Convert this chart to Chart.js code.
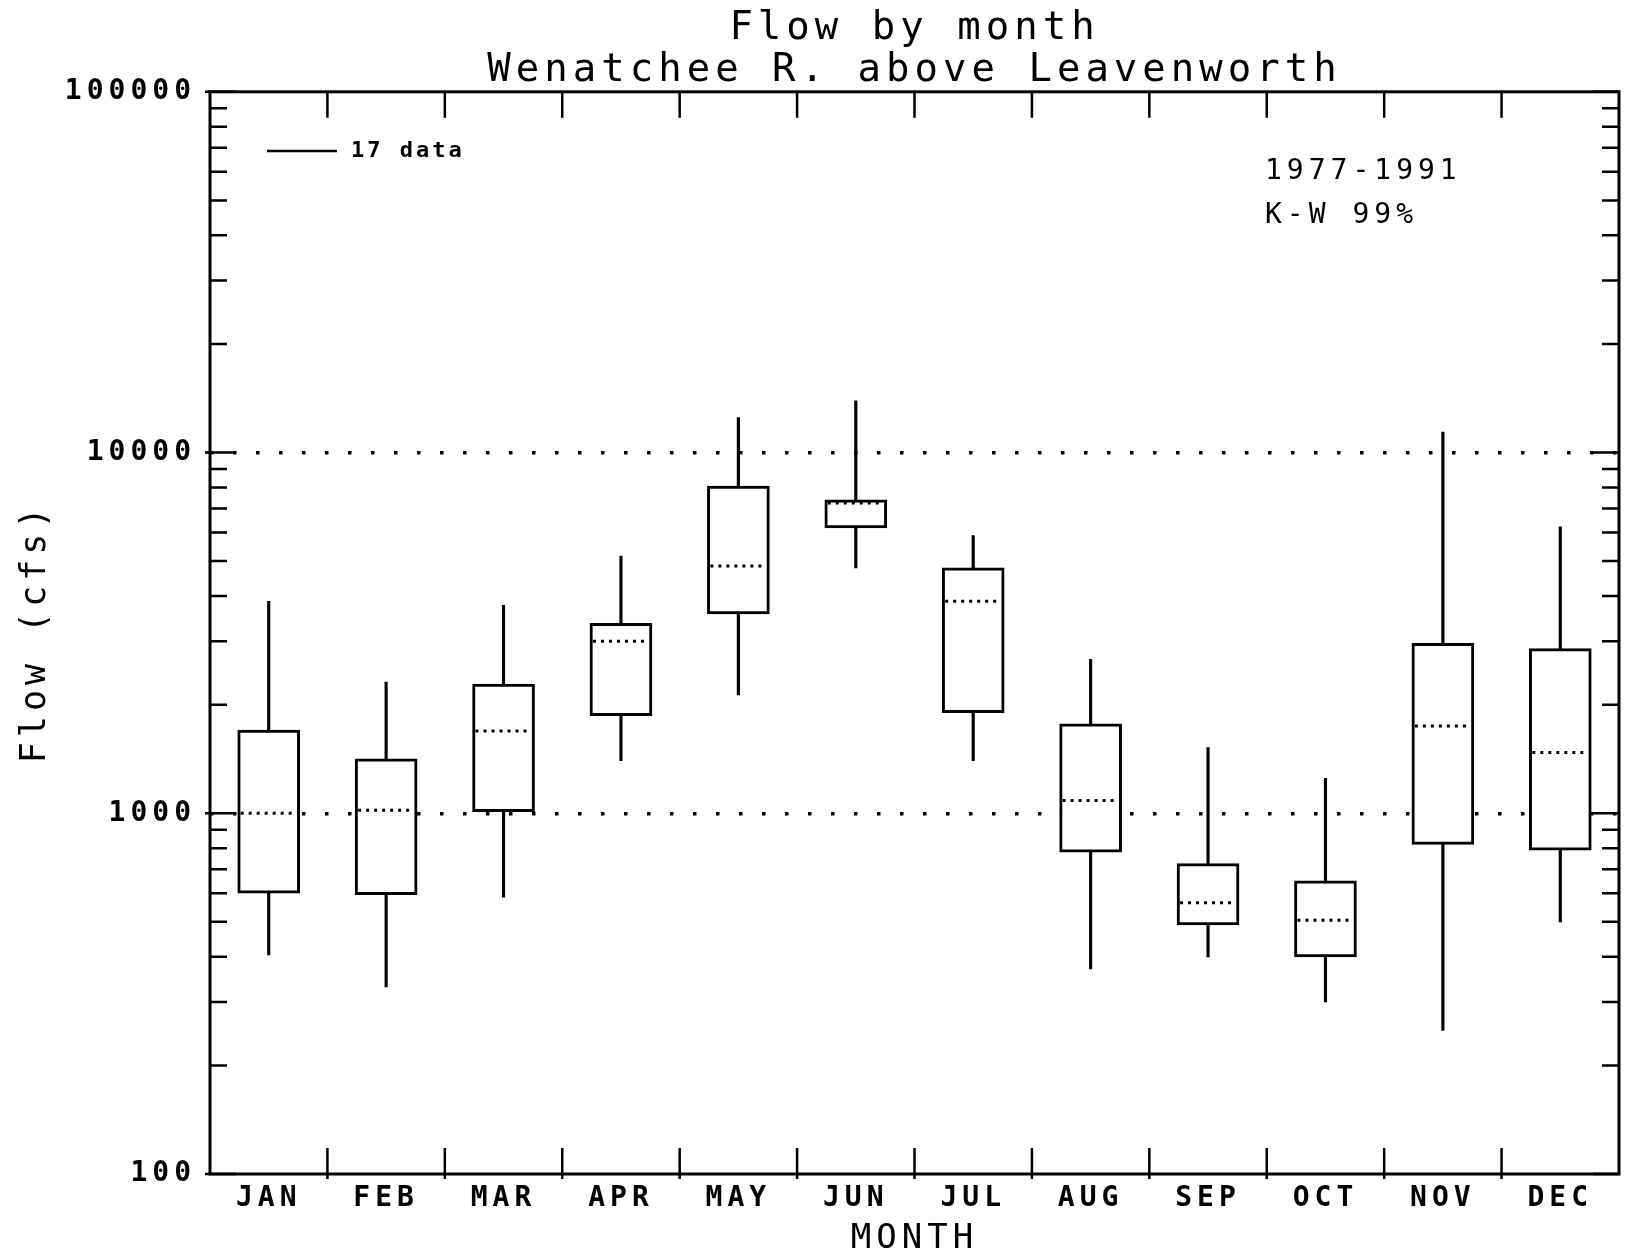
<!DOCTYPE html>
<html lang="en">
<head>
    <meta charset="UTF-8">
    <title>Flow by month</title>
    <script src="https://cdn.jsdelivr.net/npm/chart.js"></script>
    <style>
        html, body { margin: 0; padding: 0; background: #fff; }
        canvas { display: block; }
    </style>
</head>
<body>
    <canvas id="flowChart" width="1625" height="1258"></canvas>

    <script>
        // monthly flow summary, cfs
        const months = ["JAN", "FEB", "MAR", "APR", "MAY", "JUN", "JUL", "AUG", "SEP", "OCT", "NOV", "DEC"];
        const flowMin = [405, 330, 585, 1400, 2130, 4790, 1400, 370, 400, 300, 250, 500];
        const flowQ1 = [600, 595, 1010, 1865, 3570, 6180, 1900, 780, 490, 400, 820, 790];
        const flowMedian = [1000, 1020, 1690, 3000, 4850, 7250, 3870, 1085, 565, 505, 1745, 1475];
        const flowQ3 = [1700, 1415, 2280, 3360, 8070, 7400, 4790, 1770, 725, 650, 2960, 2860];
        const flowMax = [3870, 2310, 3770, 5160, 12500, 13900, 5890, 2670, 1520, 1250, 11400, 6220];
        const decadeTicks = [100, 1000, 10000, 100000];
        const dottedTicks = [1000, 10000];

        const FONT = "'DejaVu Sans Mono', monospace";
        const SPACING = "5px";

        // frame, inward ticks, medians and the notes on the plot
        const plotterPlugin = {
            id: "plotter",
            beforeUpdate(chart) { chart.ctx.letterSpacing = SPACING; },
            beforeDraw(chart) { chart.ctx.letterSpacing = SPACING; },
            afterDatasetsDraw(chart) {
                const ctx = chart.ctx;
                const a = chart.chartArea;
                const x = chart.scales.x;
                const y = chart.scales.y;
                ctx.save();
                ctx.strokeStyle = "#000";

                // medians as dotted lines across each box
                const boxes = chart.getDatasetMeta(0).data;
                ctx.lineWidth = 3;
                ctx.setLineDash([3, 5]);
                flowMedian.forEach((m, i) => {
                    const bar = boxes[i];
                    const half = bar.width / 2 - 3;
                    const py = y.getPixelForValue(m);
                    ctx.beginPath();
                    ctx.moveTo(bar.x - half, py);
                    ctx.lineTo(bar.x + half, py);
                    ctx.stroke();
                });
                ctx.setLineDash([]);

                // frame
                ctx.lineWidth = 3;
                ctx.strokeRect(a.left, a.top, a.right - a.left, a.bottom - a.top);

                // month boundary ticks, top and bottom
                ctx.lineWidth = 2.5;
                for (let i = 1; i < months.length; i++) {
                    const px = (x.getPixelForValue(i - 1) + x.getPixelForValue(i)) / 2;
                    ctx.beginPath();
                    ctx.moveTo(px, a.top);
                    ctx.lineTo(px, a.top + 26);
                    ctx.moveTo(px, a.bottom + 5);
                    ctx.lineTo(px, a.bottom - 26);
                    ctx.stroke();
                }

                // log ticks on both sides
                for (let e = 2; e <= 5; e++) {
                    for (let k = 1; k <= 9; k++) {
                        const v = k * Math.pow(10, e);
                        if (v > y.max) break;
                        const py = y.getPixelForValue(v);
                        const len = k === 1 ? 26 : 17;
                        ctx.beginPath();
                        ctx.moveTo(a.left - (k === 1 ? 5 : 0), py);
                        ctx.lineTo(a.left + len, py);
                        ctx.moveTo(a.right, py);
                        ctx.lineTo(a.right - len, py);
                        ctx.stroke();
                    }
                }

                // key and notes
                ctx.lineWidth = 2.5;
                ctx.beginPath();
                ctx.moveTo(267, 151);
                ctx.lineTo(337, 151);
                ctx.stroke();
                ctx.fillStyle = "#000";
                ctx.textBaseline = "middle";
                ctx.textAlign = "left";
                ctx.letterSpacing = "3px";
                ctx.font = "bold 22px " + FONT;
                ctx.fillText("17 data", 351, 151);
                ctx.letterSpacing = SPACING;
                ctx.font = "28px " + FONT;
                ctx.fillText("1977-1991", 1265, 172);
                ctx.fillText("K-W 99%", 1265, 216);
                ctx.restore();
            }
        };

        const chart = new Chart(document.getElementById("flowChart"), {
            type: "bar",
            data: {
                labels: months,
                datasets: [{
                    label: "Quartiles",
                    data: months.map((m, i) => [flowQ1[i], flowQ3[i]]),
                    backgroundColor: "#fff",
                    borderColor: "#000",
                    borderWidth: 3,
                    borderSkipped: false,
                    barThickness: 62,
                    grouped: false
                }, {
                    label: "Range",
                    data: months.map((m, i) => [flowMin[i], flowMax[i]]),
                    backgroundColor: "#000",
                    borderWidth: 0,
                    barThickness: 2.5,
                    grouped: false
                }]
            },
            options: {
                responsive: false,
                animation: false,
                layout: { padding: { top: 0, right: 6, bottom: 0, left: 0 } },
                plugins: {
                    legend: { display: false },
                    tooltip: { enabled: false },
                    title: {
                        display: true,
                        fullSize: false,
                        text: ["Flow by month", "Wenatchee R. above Leavenworth"],
                        color: "#000",
                        font: { family: FONT, size: 39, weight: "normal", lineHeight: 1.1 },
                        padding: { top: 7, bottom: -1 }
                    }
                },
                scales: {
                    x: {
                        offset: true,
                        afterFit(scale) { scale.height = 84; },
                        border: { display: false },
                        grid: { display: false },
                        ticks: {
                            color: "#000",
                            padding: 0,
                            font: { family: FONT, size: 28, weight: "bold" }
                        },
                        title: {
                            display: true,
                            text: "MONTH",
                            color: "#000",
                            font: { family: FONT, size: 34, weight: "normal", lineHeight: 1.1 },
                            padding: { top: 0, bottom: 0 }
                        }
                    },
                    y: {
                        type: "logarithmic",
                        min: 100,
                        max: 100000,
                        afterFit(scale) { scale.width = 210; },
                        border: { display: false, dash: [3.5, 19.5] },
                        grid: {
                            drawTicks: false,
                            lineWidth: 3.5,
                            color: c => (c.tick && dottedTicks.includes(c.tick.value)) ? "#000" : "rgba(0,0,0,0)"
                        },
                        ticks: {
                            autoSkip: false,
                            padding: 14,
                            color: "#000",
                            font: { family: FONT, size: 28, weight: "bold" },
                            callback: v => decadeTicks.includes(v) ? String(v) : ""
                        },
                        title: {
                            display: true,
                            text: "Flow (cfs)",
                            color: "#000",
                            font: { family: FONT, size: 35, weight: "normal", lineHeight: 1.2 },
                            padding: { top: 15, bottom: 0 }
                        }
                    }
                }
            },
            plugins: [plotterPlugin]
        });
    </script>
</body>
</html>
